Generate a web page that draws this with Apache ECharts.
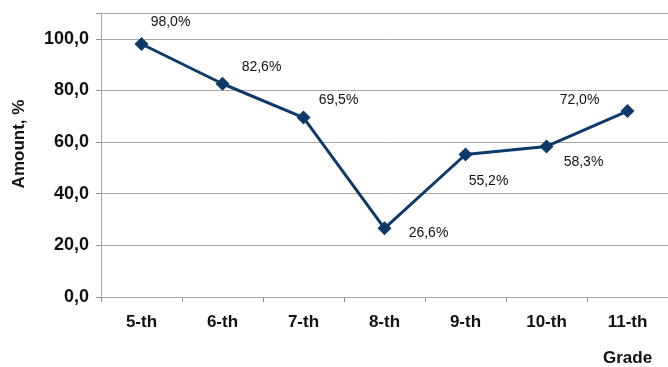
<!DOCTYPE html>
<html>
<head>
<meta charset="utf-8">
<script src="https://cdn.jsdelivr.net/npm/echarts@6/dist/echarts.min.js"></script>
<style>
  html, body { margin: 0; padding: 0; background: #fff; }
  #chart { width: 668px; height: 367px; }
</style>
</head>
<body>
<div id="chart"></div>
<script>
  // data
  var grades = ['5-th', '6-th', '7-th', '8-th', '9-th', '10-th', '11-th'];
  var amounts = [98.0, 82.6, 69.5, 26.6, 55.2, 58.3, 72.0];
  var yTicks = [0, 20, 40, 60, 80, 100];

  // label placement around each point
  var labelOffsets = [[29, -22], [39, -17], [35, -17], [44, 5], [23, 27], [37, 16], [-48, -11]];

  var fmt = function (v, digits) {
    return v.toFixed(digits).replace('.', ',');
  };

  var chart = echarts.init(document.getElementById('chart'));
  chart.setOption({
    animation: false,
    textStyle: { fontFamily: 'Liberation Sans, Arial, sans-serif' },
    grid: {
      left: 101, top: 13, width: 570, bottom: 70
    },
    xAxis: {
      type: 'category',
      data: grades,
      boundaryGap: true,
      axisLine: { lineStyle: { color: '#a8a8a8', width: 1 } },
      axisTick: { show: true, length: 5, lineStyle: { color: '#909090' } },
      axisLabel: { color: '#111', fontWeight: 'bold', fontSize: 17, margin: 17 }
    },
    yAxis: {
      type: 'value',
      min: 0, max: 110, interval: 20,
      name: 'Amount, %',
      nameLocation: 'middle',
      nameGap: 73,
      nameTextStyle: { color: '#111', fontWeight: 'bold', fontSize: 17, padding: [0, 0, 0, 22] },
      axisLine: { show: true, lineStyle: { color: '#a8a8a8' } },
      axisTick: { show: true, length: 5, lineStyle: { color: '#909090' } },
      splitLine: { lineStyle: { color: '#a8a8a8', width: 1 } },
      axisLabel: {
        color: '#111', fontWeight: 'bold', fontSize: 18, margin: 12,
        formatter: function (v) { return yTicks.indexOf(v) >= 0 ? fmt(v, 1) : ''; }
      }
    },
    series: [{
      type: 'line',
      data: amounts.map(function (v, i) {
        return {
          value: v,
          label: { offset: labelOffsets[i] }
        };
      }),
      symbol: 'diamond',
      symbolSize: 14,
      itemStyle: { color: '#0e3a6a' },
      lineStyle: { color: '#0e3a6a', width: 3 },
      label: {
        show: true,
        position: 'inside',
        color: '#111',
        fontSize: 14,
        formatter: function (p) { return fmt(p.value, 1) + '%'; }
      }
    }],
    graphic: [{
      type: 'text',
      left: 603, top: 350,
      style: { text: 'Grade', fill: '#111', font: 'bold 17px Liberation Sans, Arial, sans-serif' }
    }]
  });
</script>
</body>
</html>
